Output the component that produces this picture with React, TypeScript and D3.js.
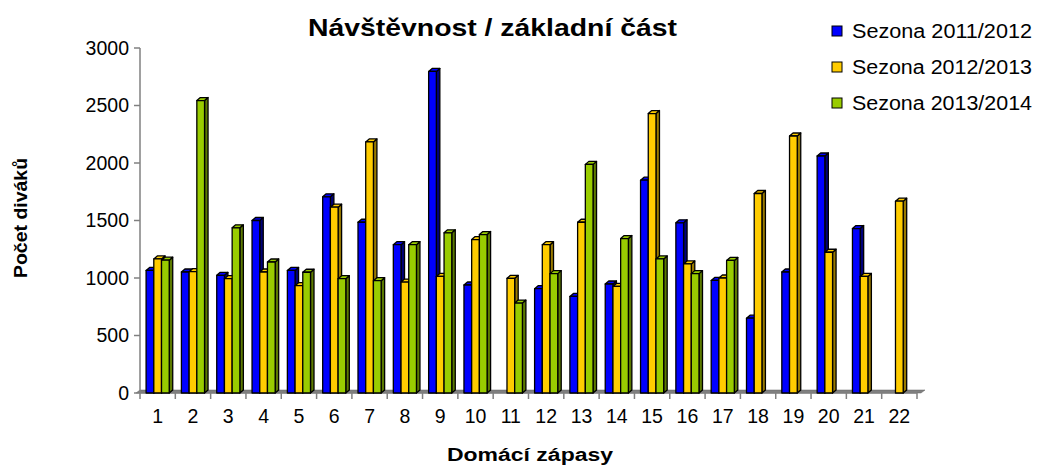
import * as d3 from 'd3';

const categories = Array.from({ length: 22 }, (_, i) => String(i + 1));
const seriesNames = ['Sezona 2011/2012', 'Sezona 2012/2013', 'Sezona 2013/2014'];
const season1 = [1066, 1052, 1023, 1500, 1066, 1706, 1485, 1290, 2796, 939, null, 907, 840, 948, 1851, 1480, 979, 651, 1052, 2061, 1430, null];
const season2 = [1166, 1055, 994, 1052, 933, 1616, 2183, 965, 1014, 1334, 997, 1290, 1485, 927, 2430, 1122, 1000, 1735, 2235, 1224, 1014, 1668];
const season3 = [1155, 2543, 1436, 1139, 1050, 994, 977, 1290, 1393, 1378, 782, 1038, 1988, 1343, 1166, 1038, 1153, null, null, null, null, null];
const yTicks = [0, 500, 1000, 1500, 2000, 2500, 3000];

const fills = ['#0000FF', '#FFCC00', '#99CC00'];
const sides = ['#00007A', '#997A00', '#5C7A00'];
const font = 'Arial, "Liberation Sans", sans-serif';

const App = () => {
  const width = 1041;
  const height = 466;
  const left = 140;
  const right = 917;
  const bottom = 393;
  const top = 48;
  const dx = 3.5;
  const dy = 3;

  const x = d3.scaleBand().domain(categories).range([left, right]).paddingInner(0).paddingOuter(0);
  const inner = d3.scaleBand().domain(['0', '1', '2']).range([0, x.bandwidth() * 0.655]);
  const y = d3.scaleLinear().domain([0, 3000]).range([bottom, top]);
  const series = [season1, season2, season3];
  const groupOff = (x.bandwidth() - x.bandwidth() * 0.655) / 2;

  const bars: JSX.Element[] = [];
  categories.forEach((c, ci) => {
    series.forEach((s, si) => {
      const v = s[ci];
      if (v == null) return;
      const x0 = (x(c) as number) + groupOff + (inner(String(si)) as number);
      const w = inner.bandwidth();
      const yt = y(v);
      const y0 = bottom;
      bars.push(
        <g key={`${ci}-${si}`} stroke="#000" strokeWidth={1.3} strokeLinejoin="round">
          <polygon points={`${x0 + w},${yt} ${x0 + w + dx},${yt - dy} ${x0 + w + dx},${y0 - dy} ${x0 + w},${y0}`} fill={sides[si]} />
          <polygon points={`${x0},${yt} ${x0 + dx},${yt - dy} ${x0 + w + dx},${yt - dy} ${x0 + w},${yt}`} fill={fills[si]} />
          <rect x={x0} y={yt} width={w} height={y0 - yt} fill={fills[si]} />
        </g>
      );
    });
  });

  return (
    <svg width={width} height={height} style={{ position: 'absolute', left: 0, top: 0 }} fontFamily={font}>
      <rect width={width} height={height} fill="#fff" />
      {/* floor */}
      <polygon points={`${left - 4},${bottom} ${left},${bottom - dy} ${right + 8},${bottom - dy} ${right + 4},${bottom}`} fill="#808080" stroke="#606060" strokeWidth={0.5} />
      {/* y axis */}
      <line x1={left} x2={left} y1={top} y2={bottom} stroke="#808080" strokeWidth={1.5} />
      {yTicks.map(t => (
        <g key={t}>
          <line x1={left - 6} x2={left} y1={y(t)} y2={y(t)} stroke="#808080" strokeWidth={1.5} />
          <text x={left - 11} y={y(t)} dy="0.35em" textAnchor="end" fontSize={19.5}>{t}</text>
        </g>
      ))}
      {/* x axis */}
      <line x1={left} x2={right} y1={bottom} y2={bottom} stroke="#808080" strokeWidth={1.5} />
      {categories.map(c => (
        <line key={'t' + c} x1={x(c) as number} x2={x(c) as number} y1={bottom} y2={bottom + 6} stroke="#808080" strokeWidth={1.5} />
      ))}
      <line x1={right} x2={right} y1={bottom} y2={bottom + 6} stroke="#808080" strokeWidth={1.5} />
      {categories.map(c => (
        <text key={'l' + c} x={(x(c) as number) + x.bandwidth() / 2} y={416} dy="0.35em" textAnchor="middle" fontSize={19.5}>{c}</text>
      ))}
      {bars}
      {/* titles */}
      <text x={492.5} y={28} dy="0.35em" textAnchor="middle" fontSize={24} fontWeight="bold" textLength={369} lengthAdjust="spacingAndGlyphs">Návštěvnost / základní část</text>
      <text transform={`translate(21,218) rotate(-90)`} dy="0.35em" textAnchor="middle" fontSize={18} fontWeight="bold" textLength={120} lengthAdjust="spacingAndGlyphs">Počet diváků</text>
      <text x={530} y={455} dy="0.35em" textAnchor="middle" fontSize={18} fontWeight="bold" textLength={166} lengthAdjust="spacingAndGlyphs">Domácí zápasy</text>
      {/* legend */}
      {seriesNames.map((n, i) => (
        <g key={n} transform={`translate(832,${31 + i * 36})`}>
          <rect x={0} y={-5} width={10} height={10} fill={fills[i]} stroke="#000" strokeWidth={1} />
          <text x={20} y={0} dy="0.35em" fontSize={19.5} textLength={180} lengthAdjust="spacingAndGlyphs">{n}</text>
        </g>
      ))}
    </svg>
  );
};

export default App;
